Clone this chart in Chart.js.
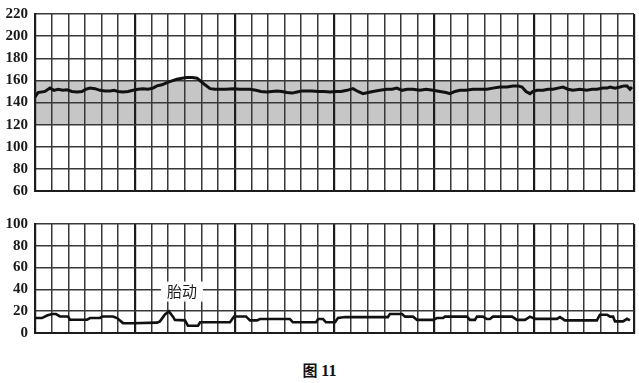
<!DOCTYPE html>
<html><head><meta charset="utf-8">
<script src="https://cdn.jsdelivr.net/npm/chart.js@4"></script>
<style>
body{margin:0;background:#fff;width:639px;height:383px;position:relative;overflow:hidden}
canvas{position:absolute;left:0}
#c1{top:0}
#c2{top:200px}
#title{position:absolute;top:359px;left:0;width:639px;text-align:center;font-weight:bold;font-size:15px;color:#111}
#title .cn{font-family:"Noto Sans CJK SC";}
#title .num{font-family:"Liberation Serif";font-size:16px}
</style></head><body>
<canvas id="c1" width="639" height="200"></canvas>
<canvas id="c2" width="639" height="150"></canvas>
<div id="title"><span class="cn">图</span> <span class="num">11</span></div>
<script>
// Fetal heart rate trace (x in minor grid units, y in bpm)
const hrX=[0,0.18,0.6,0.9,1.14,1.38,1.68,1.92,2.22,2.52,2.82,3.06,3.31,3.61,3.91,4.21,4.51,4.75,4.99,5.29,5.59,5.89,6.19,6.49,6.79,7.09,7.33,7.63,7.93,8.23,8.53,8.83,9.13,9.44,9.74,9.98,10.22,10.52,10.82,11.12,11.48,11.9,12.32,12.62,12.92,13.28,13.58,13.94,14.24,14.54,14.84,15.14,15.44,15.75,16.05,16.35,16.65,17.01,17.37,17.73,18.09,18.39,18.75,19.11,19.41,19.71,20.01,20.31,20.73,21.15,21.45,21.75,22.06,22.36,22.72,23.14,23.5,23.92,24.34,24.7,24.94,25.24,25.54,25.9,26.32,26.74,27.16,27.52,27.94,28.37,28.73,29.03,29.27,29.51,29.75,29.93,30.17,30.53,30.83,31.13,31.43,31.73,32.03,32.33,32.75,33.17,33.47,33.77,34.13,34.38,34.56,34.86,35.16,35.4,35.58,35.76,35.88];
const hrY=[145,149,150,153,151,152,151,151.5,150,149.5,150,152,153,152.5,151,150.5,150.5,151,150,149.5,150,151,152,152.5,152,153,155,156,158,159.5,161,162,162.5,162.5,162,159,156,152.5,152,152,152,152.5,152,152,152,151,150,149.5,150,150.5,150,149,148.5,149.5,150.5,150.5,150.5,150,150,149.5,150,150,151,152.5,150,148,149,150,151,152,152,153,151,152,152,151,152,151,150,149,148,150,151,151,152,152,152,153,154,154,155,155,154,150,148,150,151,151,152,152,153,154,152,151,152,151,152,152,153,153,154,153,154,155,155,152,154];
// Lower trace (fetal movement / contraction)
const mvX=[0,0.42,0.72,1.02,1.26,1.5,1.98,2.1,3.13,3.31,3.91,4.03,4.69,4.93,5.29,5.89,7.33,7.51,7.81,8.05,8.29,8.41,9.01,9.19,9.8,9.92,11.72,11.96,12.68,12.92,13.34,13.52,15.32,15.5,16.89,17.01,17.31,17.49,18.03,18.21,18.63,21.21,21.33,22.06,22.24,22.72,22.96,23.92,24.16,24.52,24.64,25.96,26.14,26.44,26.56,26.92,27.16,27.34,27.52,28.67,28.97,29.45,29.75,30.05,31.37,31.55,31.85,33.77,33.95,34.38,34.56,34.74,34.86,35.34,35.58,35.76];
const mvY=[13.7,13.7,16,17.4,17.4,15.2,15.2,12.2,12.2,13.7,13.7,15.2,15.2,13.7,9.1,9,9.5,10.7,17,19.8,15,12,11.6,6.7,6.7,9.8,9.8,15.2,15.2,11.6,11.6,12.8,12.8,9.8,9.8,12.8,12.8,9.8,9.8,13.7,14.6,14.6,17.4,17.4,15,15,12,12,13.7,13.7,15,15,12,12,15,15,12.8,12.8,15,15,12,12,15,13,13,14.6,11.6,11.6,16.8,16.8,15,15,10.7,10.7,13,11.6];
// Axis settings
const xMax=36, majorEvery=6;
const topTicks=[60,220], botTicks=[0,100];
const bandRange=[120,160];
const noteText="胎动", notePos=[8.83,38];

function pts(xs,ys){return xs.map((x,i)=>({x:x,y:ys[i]}));}

const gridX={
  color:c=>(c.tick&&c.tick.value%majorEvery===0)?'#1c1c1c':'#383838',
  lineWidth:c=>(c.tick&&c.tick.value%majorEvery===0)?2.2:1.5,
  drawTicks:false
};
const gridY={color:'#383838',lineWidth:1.5,drawTicks:false};

function makeOpts(range,padTop,padBottom){
  return {
    responsive:false,animation:false,
    layout:{padding:{top:padTop,bottom:padBottom,left:0,right:5}},
    plugins:{legend:{display:false},tooltip:{enabled:false}},
    scales:{
      x:{type:'linear',min:0,max:xMax,
        ticks:{display:false,stepSize:1},
        grid:gridX,
        border:{display:true,color:'#1c1c1c',width:2},
        afterFit:s=>{s.height=0;s.paddingLeft=0;s.paddingRight=0;}},
      y:{min:range[0],max:range[1],
        ticks:{stepSize:10,padding:7,color:'#1a1a1a',
          font:{family:'Liberation Serif',size:15,weight:'bold'},
          callback:v=>(v%20===0?String(v):'')},
        grid:gridY,
        border:{display:true,color:'#1c1c1c',width:2},
        afterFit:s=>{s.width=35;s.paddingTop=0;s.paddingBottom=0;}}
    }
  };
}

const bandPlugin={id:'band',beforeDraw(chart){
  const a=chart.chartArea,y=chart.scales.y,ctx=chart.ctx;
  const y1=y.getPixelForValue(bandRange[1]),y0=y.getPixelForValue(bandRange[0]);
  ctx.save();ctx.fillStyle='#c6c6c6';ctx.fillRect(a.left,y1,a.right-a.left,y0-y1);ctx.restore();
}};

const notePlugin={id:'note',afterDraw(chart){
  const ctx=chart.ctx;
  const px=chart.scales.x.getPixelForValue(notePos[0]),py=chart.scales.y.getPixelForValue(notePos[1]);
  ctx.save();
  ctx.font='15px "Noto Sans CJK SC"';
  const w=ctx.measureText(noteText).width;
  ctx.fillStyle='#fff';ctx.fillRect(px-w/2-6,py-10,w+12,20);
  ctx.fillStyle='#1a1a1a';ctx.textAlign='center';ctx.textBaseline='middle';
  ctx.fillText(noteText,px,py);
  ctx.restore();
}};

new Chart(document.getElementById('c1'),{
  type:'line',
  data:{datasets:[{data:pts(hrX,hrY),borderColor:'#111',borderWidth:3,pointRadius:0,tension:0,fill:false}]},
  options:makeOpts(topTicks,14,9),
  plugins:[bandPlugin]
});
new Chart(document.getElementById('c2'),{
  type:'line',
  data:{datasets:[{data:pts(mvX,mvY),borderColor:'#111',borderWidth:2.6,pointRadius:0,tension:0,fill:false}]},
  options:makeOpts(botTicks,24,17),
  plugins:[notePlugin]
});
</script>
</body></html>
